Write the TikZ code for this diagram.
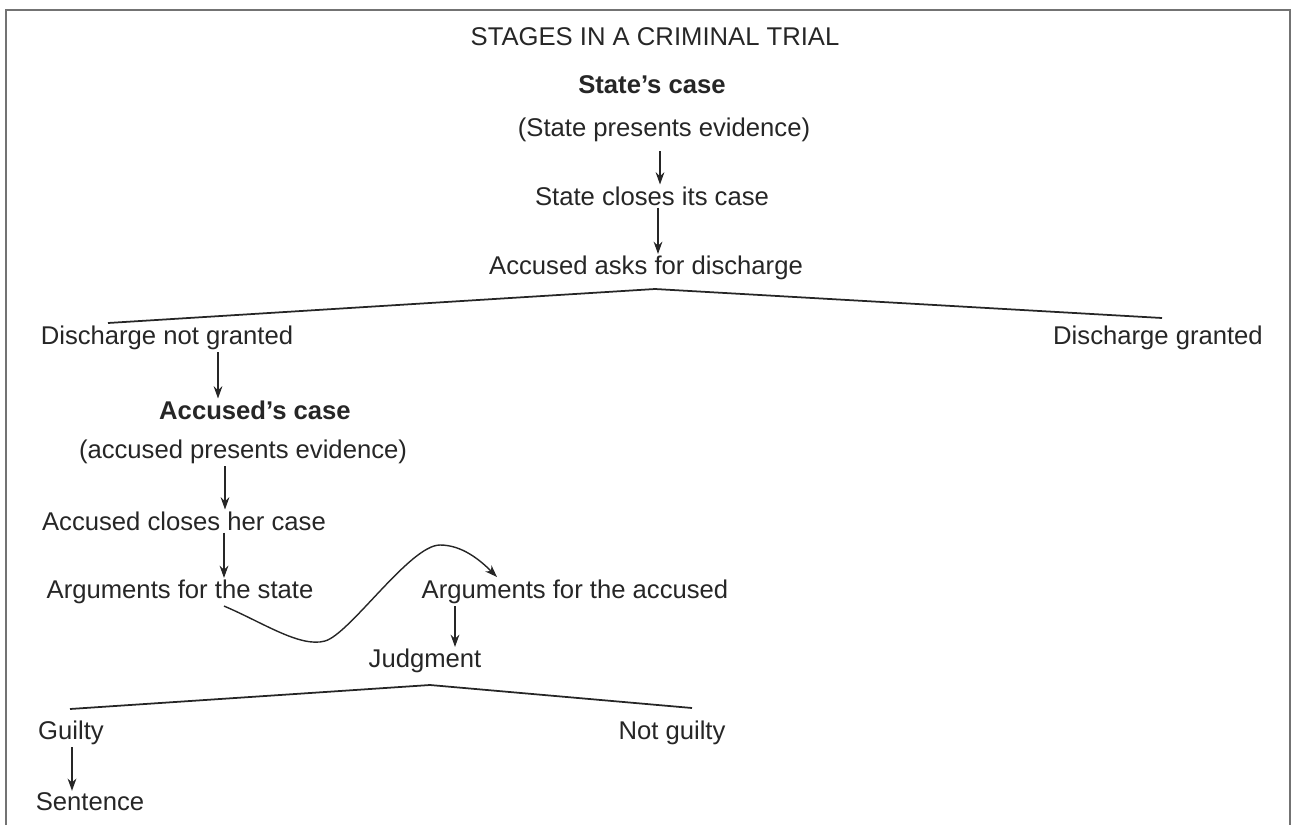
\documentclass[tikz,border=0pt]{standalone}
\usepackage{fontspec}
\setmainfont{Liberation Sans}
\usetikzlibrary{arrows.meta}
\begin{document}
\begin{tikzpicture}[x=0.02cm,y=-0.02cm,
  lbl/.style={inner sep=1pt,font=\fontsize{14.6}{17}\selectfont,text=black!85},
  hd/.style={lbl,font=\fontsize{14.6}{17}\selectfont\bfseries},
  arr/.style={-{Stealth[length=7pt,width=5pt]},line width=0.8pt,draw=black!85},
  ln/.style={line width=1pt,draw=black!85},
  frame/.style={line width=0.9pt,draw=black!55}]
\useasboundingbox (0,0) rectangle (1294,825);
\draw[frame] (6,825) -- (6,10) -- (1290,10) -- (1290,825);

\node[lbl] (title) at (655,37) {STAGES IN A CRIMINAL TRIAL};
\node[hd]  (sc)  at (652,85)  {State's case};
\node[lbl] (spe) at (664,130) {(State presents evidence)};
\node[lbl] (scc) at (652,196) {State closes its case};
\node[lbl] (aad) at (646,268) {Accused asks for discharge};
\node[lbl] (dng) at (167,338) {Discharge not granted};
\node[lbl] (dg)  at (1158,338) {Discharge granted};
\node[hd]  (ac)  at (255,410) {Accused's case};
\node[lbl] (ape) at (243,452) {(accused presents evidence)};
\node[lbl] (acc) at (184,521) {Accused closes her case};
\node[lbl] (afs) at (180,592) {Arguments for the state};
\node[lbl] (afa) at (575,592) {Arguments for the accused};
\node[lbl] (jud) at (425,661) {Judgment};
\node[lbl] (gui) at (71,733)  {Guilty};
\node[lbl] (ng)  at (672,733) {Not guilty};
\node[lbl] (sen) at (90,802)  {Sentence};

\coordinate (x660) at (660,0);
\coordinate (x658) at (658,0);
\coordinate (x218) at (218,0);
\coordinate (x225) at (225,0);
\coordinate (x224) at (224,0);
\coordinate (x455) at (455,0);
\coordinate (x72)  at (72,0);

\draw[arr] ([yshift=-4]spe.south -| x660) -- (scc.north -| x660);
\draw[arr] (scc.south -| x658) -- (aad.north -| x658);

\coordinate (apex1) at (655,289);
\coordinate (l1) at (108,323);
\coordinate (r1) at (1162,318);
\draw[ln] (l1) -- (apex1) -- (r1);

\draw[arr] (dng.south -| x218) -- (ac.north -| x218);
\draw[arr] (ape.south -| x225) -- (acc.north -| x225);
\draw[arr] (acc.south -| x224) -- (afs.north -| x224);

\coordinate (s0) at (afs.south -| x224);
\coordinate (s1) at (497,577);
\draw[arr] (s0) .. controls (262,622) and (300,648) .. (325,641)
  .. controls (350,634) and (410,545) .. (440,545)
  .. controls (462,545) and (480,560) .. (s1);

\draw[arr] (afa.south -| x455) -- (jud.north -| x455);

\coordinate (apex2) at (430,685);
\coordinate (l2) at (70,709);
\coordinate (r2) at (692,708);
\draw[ln] (l2) -- (apex2) -- (r2);

\draw[arr] (gui.south -| x72) -- (sen.north -| x72);
\end{tikzpicture}
\end{document}
